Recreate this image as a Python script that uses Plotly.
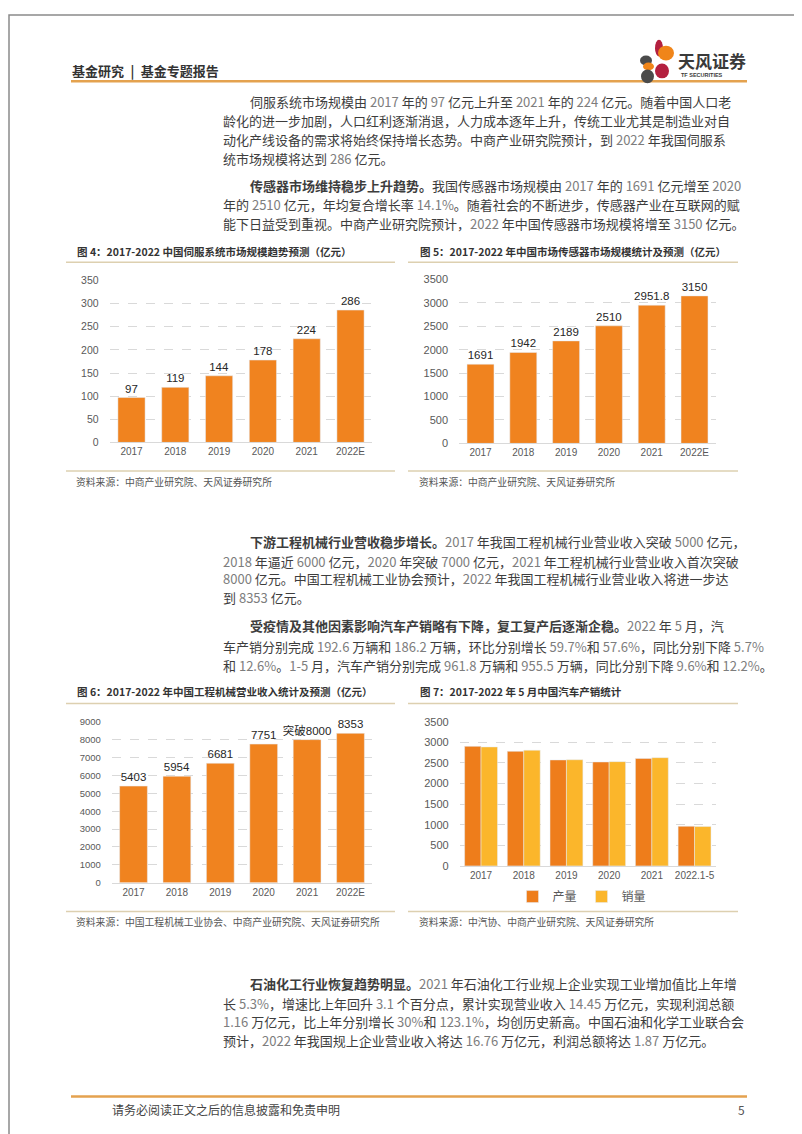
import re
import plotly.graph_objects as go

W, H = 802, 1134

# ---------------- data ----------------
years6 = ["2017", "2018", "2019", "2020", "2021", "2022E"]
servo_values = [97, 119, 144, 178, 224, 286]
servo_labels = ["97", "119", "144", "178", "224", "286"]
sensor_values = [1691, 1942, 2189, 2510, 2951.8, 3150]
sensor_labels = ["1691", "1942", "2189", "2510", "2951.8", "3150"]
machinery_values = [5403, 5954, 6681, 7751, 8000, 8353]
machinery_labels = ["5403", "5954", "6681", "7751", "突破8000", "8353"]
auto_years = ["2017", "2018", "2019", "2020", "2021", "2022.1-5"]
auto_production = [2901.5, 2780.9, 2572.1, 2522.5, 2608.2, 961.8]
auto_sales = [2887.9, 2808.1, 2576.9, 2531.1, 2627.5, 955.5]
auto_series_names = ["产量", "销量"]

servo_ticks = [0, 50, 100, 150, 200, 250, 300, 350]
sensor_ticks = [0, 500, 1000, 1500, 2000, 2500, 3000, 3500]
machinery_ticks = [0, 1000, 2000, 3000, 4000, 5000, 6000, 7000, 8000, 9000]
auto_ticks = [0, 500, 1000, 1500, 2000, 2500, 3000, 3500]

chart_titles = [
    "图 4：2017-2022 中国伺服系统市场规模趋势预测（亿元）",
    "图 5：2017-2022 年中国市场传感器市场规模统计及预测（亿元）",
    "图 6：2017-2022 年中国工程机械营业收入统计及预测（亿元）",
    "图 7：2017-2022 年 5 月中国汽车产销统计",
]
chart_sources = [
    "资料来源：中商产业研究院、天风证券研究所",
    "资料来源：中商产业研究院、天风证券研究所",
    "资料来源：中国工程机械工业协会、中商产业研究院、天风证券研究所",
    "资料来源：中汽协、中商产业研究院、天风证券研究所",
]

para1 = [
    ("", "伺服系统市场规模由 2017 年的 97 亿元上升至 2021 年的 224 亿元。随着中国人口老"),
    ("", "龄化的进一步加剧，人口红利逐渐消退，人力成本逐年上升，传统工业尤其是制造业对自"),
    ("", "动化产线设备的需求将始终保持增长态势。中商产业研究院预计，到 2022 年我国伺服系"),
    ("", "统市场规模将达到 286 亿元。"),
]
para2 = [
    ("传感器市场维持稳步上升趋势。", "我国传感器市场规模由 2017 年的 1691 亿元增至 2020"),
    ("", "年的 2510 亿元，年均复合增长率 14.1%。随着社会的不断进步，传感器产业在互联网的赋"),
    ("", "能下日益受到重视。中商产业研究院预计，2022 年中国传感器市场规模将增至 3150 亿元。"),
]
para3 = [
    ("下游工程机械行业营收稳步增长。", "2017 年我国工程机械行业营业收入突破 5000 亿元，"),
    ("", "2018 年逼近 6000 亿元，2020 年突破 7000 亿元，2021 年工程机械行业营业收入首次突破"),
    ("", "8000 亿元。中国工程机械工业协会预计，2022 年我国工程机械行业营业收入将进一步达"),
    ("", "到 8353 亿元。"),
]
para4 = [
    ("受疫情及其他因素影响汽车产销略有下降，复工复产后逐渐企稳。", "2022 年 5 月，汽"),
    ("", "车产销分别完成 192.6 万辆和 186.2 万辆，环比分别增长 59.7%和 57.6%，同比分别下降 5.7%"),
    ("", "和 12.6%。1-5 月，汽车产销分别完成 961.8 万辆和 955.5 万辆，同比分别下降 9.6%和 12.2%。"),
]
para5 = [
    ("石油化工行业恢复趋势明显。", "2021 年石油化工行业规上企业实现工业增加值比上年增"),
    ("", "长 5.3%，增速比上年回升 3.1 个百分点，累计实现营业收入 14.45 万亿元，实现利润总额"),
    ("", "1.16 万亿元，比上年分别增长 30%和 123.1%，均创历史新高。中国石油和化学工业联合会"),
    ("", "预计，2022 年我国规上企业营业收入将达 16.76 万亿元，利润总额将达 1.87 万亿元。"),
]

# ---------------- styling ----------------
ORANGE = "#F0831F"
ORANGE2 = "#EE7D1B"
YELLOW = "#FBB62B"
GRID = "#D9D9D9"
TAN = "#DDD0B0"
HEADLINE = "#E4A24F"
CJK = "Noto Sans CJK SC"
ARIAL = "Liberation Sans, Arial, Noto Sans CJK SC"


def px(x):
    return x / W


def py(y):
    return 1 - y / H


fig = go.Figure()

# chart specs: (axis index, x0, x1, ytop, ybottom, range top, ticks, yfont, xfont)
specs = [
    (1, 101.6, 364.4, 269, 433, 350, servo_ticks, 10.5, 10),
    (2, 451.1, 707.9, 268, 434, 3500, sensor_ticks, 11, 10),
    (3, 103.8, 364.2, 715, 878, 9000, machinery_ticks, 9.5, 10),
    (4, 451.7, 707.9, 715, 861, 3500, auto_ticks, 11, 10),
]

layout_axes = {}
for i, x0, x1, yt, yb, top, ticks, yfs, xfs in specs:
    sx = "" if i == 1 else str(i)
    layout_axes["xaxis" + sx] = dict(
        domain=[px(x0), px(x1)], anchor="y" + sx, type="category",
        showgrid=False, showline=True, linecolor=GRID, linewidth=1,
        ticks="", tickfont=dict(family=ARIAL, size=xfs, color="#595959"),
        fixedrange=True,
    )
    layout_axes["yaxis" + sx] = dict(
        domain=[py(yb), py(yt)], anchor="x" + sx, range=[0, top * 1.002],
        tickmode="array", tickvals=ticks, ticktext=[str(t) for t in ticks],
        showgrid=True, gridcolor=GRID, griddash="dash", gridwidth=1,
        zeroline=False, showline=False, ticks="",
        ticklabelstandoff=10,
        tickfont=dict(family=ARIAL, size=yfs, color="#595959"),
        fixedrange=True,
    )

label_font = dict(family=ARIAL, size=11.5, color="#262626")

fig.add_trace(go.Bar(x=years6, y=servo_values, text=servo_labels, textposition="outside",
                     width=0.62, marker_color=ORANGE, xaxis="x", yaxis="y",
                     showlegend=False, cliponaxis=False, textfont=label_font,
                     constraintext="none", hoverinfo="x+y"))
fig.add_trace(go.Bar(x=years6, y=sensor_values, text=sensor_labels, textposition="outside",
                     width=0.63, marker_color=ORANGE, xaxis="x2", yaxis="y2",
                     showlegend=False, cliponaxis=False, textfont=label_font,
                     constraintext="none", hoverinfo="x+y"))
fig.add_trace(go.Bar(x=years6, y=machinery_values, text=machinery_labels, textposition="outside",
                     width=0.64, marker_color=ORANGE, xaxis="x3", yaxis="y3",
                     showlegend=False, cliponaxis=False, textfont=label_font,
                     constraintext="none", hoverinfo="x+y"))
fig.add_trace(go.Bar(x=auto_years, y=auto_production, name=auto_series_names[0],
                     marker_color=ORANGE2, xaxis="x4", yaxis="y4", hoverinfo="x+y+name"))
fig.add_trace(go.Bar(x=auto_years, y=auto_sales, name=auto_series_names[1],
                     marker_color=YELLOW, xaxis="x4", yaxis="y4", hoverinfo="x+y+name"))

annotations = []
shapes = []


def text(x, y, s, size, color="#333", family=CJK, xanchor="left"):
    annotations.append(dict(x=px(x), y=py(y), xref="paper", yref="paper", text=s,
                            showarrow=False, xanchor=xanchor, yanchor="middle",
                            font=dict(family=family, size=size, color=color)))


def hline(x0, x1, y, color, width):
    shapes.append(dict(type="line", xref="paper", yref="paper", x0=px(x0), x1=px(x1),
                       y0=py(y), y1=py(y), line=dict(color=color, width=width)))


def numgray(s):
    return re.sub(r"[0-9][0-9.%\-]*",
                  lambda m: "<span style='color:#7d7d7d'>" + m.group(0) + "</span>", s)


def paragraph(lines, ys):
    for k, ((bold, rest), y) in enumerate(zip(lines, ys)):
        x = 240 if k == 0 else 213
        s = ("<b>" + bold + "</b>" if bold else "") + numgray(rest)
        text(x, y, s, 13, color="#3d3d3d")


# page frame
shapes.append(dict(type="rect", xref="paper", yref="paper", x0=px(1), x1=px(800.5),
                   y0=py(1133), y1=py(1), line=dict(color="#8a8a8a", width=1.5)))

# header
text(62, 57, "<b>基金研究\u2002|\u2002基金专题报告</b>", 13, color="#333")
hline(63, 739, 68, HEADLINE, 2.5)
# logo petals
petals = [
    (647, 655, 26, 43, "#B3203F"),
    (650, 666, 32, 47, "#F08519"),
    (632, 644, 42, 52, "#4B4B4B"),
    (635, 646, 49, 57, "#F08519"),
    (647, 661, 50, 65, "#B3203F"),
    (633, 646, 56, 70, "#4B4B4B"),
]
for x0, x1, y0, y1, c in petals:
    shapes.append(dict(type="circle", xref="paper", yref="paper", x0=px(x0), x1=px(x1),
                       y0=py(y1), y1=py(y0), fillcolor=c, line=dict(width=0)))
text(668, 47, "<b>天风证券</b>", 17, color="#3a3a3a")
text(671, 62, "<b>TF SECURITIES</b>", 5.5, color="#3a3a3a", family=ARIAL)

# body paragraphs
paragraph(para1, [88, 108, 127, 146])
paragraph(para2, [173, 193, 212])
paragraph(para3, [533, 553, 571, 590])
paragraph(para4, [618, 639, 658])
paragraph(para5, [980, 1000, 1018, 1037])

# chart frames
frames = [
    (58, 387, 67, 240, 251, 462, 473),
    (400, 730, 410, 240, 251, 462, 473),
    (58, 387, 67, 685, 697, 907, 918),
    (400, 730, 410, 685, 697, 907, 918),
]
for (x0, x1, tx, ty, ly, by, sy), title, src in zip(frames, chart_titles, chart_sources):
    text(tx, ty, "<b>" + title + "</b>", 10.5, color="#333")
    hline(x0, x1, ly, TAN, 1.5)
    hline(x0, x1, by, TAN, 1.5)
    text(tx - 1, sy, src, 9.8, color="#555")

# footer
hline(63, 739, 1094, HEADLINE, 2.5)
text(102, 1107, "请务必阅读正文之后的信息披露和免责申明", 12, color="#444")
text(733, 1107, "5", 12, color="#555", xanchor="center")

fig.update_layout(
    width=W, height=H, margin=dict(l=0, r=0, t=0, b=0),
    paper_bgcolor="white", plot_bgcolor="white",
    barmode="group", bargap=0.23, bargroupgap=0,
    showlegend=True,
    legend=dict(orientation="h", x=px(574), xanchor="center", y=py(892), yanchor="middle",
                font=dict(family=CJK, size=12, color="#595959"), bgcolor="rgba(0,0,0,0)",
                itemwidth=30, tracegroupgap=0),
    annotations=annotations, shapes=shapes,
    font=dict(family=CJK),
    **layout_axes,
)

fig.write_html("out.html")
